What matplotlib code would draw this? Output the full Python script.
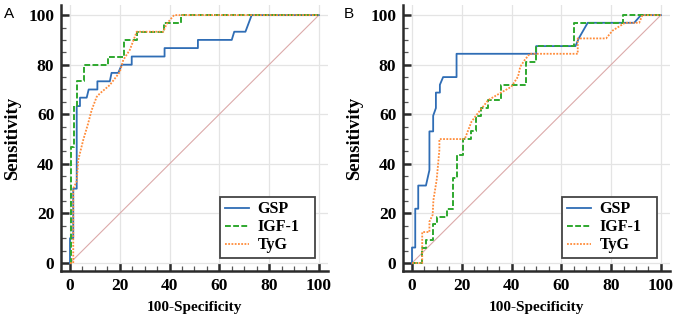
import matplotlib
matplotlib.use("Agg")
import matplotlib.pyplot as plt
from matplotlib.ticker import MultipleLocator

# ---------------- data ----------------
# Panel A
a_gsp_fpr = [0, 0, 1.3, 1.3, 2.7, 2.7, 4.0, 4.0, 6.7, 7.5, 11.0, 11.0, 16.0, 16.7, 19.4, 20.8, 24.8, 24.8, 38.0, 38.0, 51.4, 51.4, 65.0, 66.0, 70.5, 73.0, 100]
a_gsp_tpr = [0, 10, 10, 30, 30, 63.3, 63.3, 66.7, 66.7, 70, 70, 73.3, 73.3, 76.7, 76.7, 80, 80, 83.3, 83.3, 86.7, 86.7, 90, 90, 93.3, 93.3, 100, 100]

a_igf_fpr = [0, 0.4, 0.4, 1.5, 1.5, 2.8, 2.8, 5.6, 5.6, 15.2, 15.2, 21.7, 21.7, 27.1, 27.1, 37.8, 37.8, 44.6, 44.6, 100]
a_igf_tpr = [0, 0, 46.7, 46.7, 63.3, 63.3, 73.3, 73.3, 80, 80, 83.3, 83.3, 90, 90, 93.3, 93.3, 96.7, 96.7, 100, 100]

a_tyg_fpr = [0, 1.3, 1.3, 2.7, 3.3, 5.3, 7.2, 8.7, 10.7, 12.0, 16.0, 20.0, 21.4, 24.0, 24.5, 26.8, 37.5, 38.8, 41.8, 100]
a_tyg_tpr = [0, 0, 30, 33, 41.5, 49.6, 56, 61.7, 67, 68.4, 71.8, 77, 81.9, 85.9, 87.2, 93.3, 93.3, 96.4, 100, 100]

# Panel B
b_gsp_fpr = [0, 0, 1.3, 1.3, 2.5, 2.5, 5.6, 7.0, 7.0, 8.5, 8.5, 9.6, 9.6, 11.2, 11.2, 12.5, 17.9, 17.9, 49.9, 49.9, 65.7, 67.0, 70.6, 89.3, 92.0, 100]
b_gsp_tpr = [0, 6.25, 6.25, 21.9, 21.9, 31.25, 31.25, 37.5, 53.1, 53.1, 59.4, 62.5, 68.75, 68.75, 71.9, 75, 75, 84.4, 84.4, 87.5, 87.5, 90.6, 96.9, 96.9, 100, 100]

b_igf_fpr = [0, 4.1, 4.1, 5.6, 5.6, 8.5, 8.5, 10.1, 10.1, 13.9, 13.9, 16.5, 16.5, 17.9, 17.9, 20.5, 20.5, 23.9, 23.9, 25.6, 25.6, 27.9, 27.9, 30.6, 30.6, 35.9, 35.9, 45.7, 45.7, 49.9, 49.9, 65.3, 65.3, 84.6, 84.6, 100]
b_igf_tpr = [0, 0, 6.25, 6.25, 9.4, 9.4, 15.6, 15.6, 18.75, 18.75, 21.9, 21.9, 34.4, 34.4, 43.75, 43.75, 50, 50, 53.1, 53.1, 59.4, 59.4, 62.5, 62.5, 65.6, 65.6, 71.9, 71.9, 81.25, 81.25, 87.5, 87.5, 96.9, 96.9, 100, 100]

b_tyg_fpr = [0, 4.1, 4.1, 7.0, 7.0, 8.3, 8.6, 9.9, 11.0, 11.0, 21.2, 23.9, 25.9, 30.6, 35.2, 39.9, 42.6, 43.5, 45.3, 47.3, 66.6, 66.6, 78.0, 80.6, 85.6, 91.3, 92.6, 100]
b_tyg_tpr = [0, 0, 12.5, 12.5, 16.7, 19.4, 25.4, 33.5, 45.6, 50, 50, 57, 59.7, 65.7, 68.4, 71.1, 75.2, 79.2, 81.9, 84.4, 84.4, 90.6, 90.6, 93.75, 96.9, 96.9, 100, 100]

series_names = ["GSP", "IGF-1", "TyG"]
panel_letters = ["A", "B"]
tick_values = [0, 20, 40, 60, 80, 100]

# ---------------- styling ----------------
W, H = 676, 317
fig = plt.figure(figsize=(W / 100, H / 100), dpi=100)

serif = ["Liberation Serif", "DejaVu Serif"]
colors = ["#2f6db5", "#2ea82e", "#ff8c3a"]
styles = [dict(ls="-", lw=1.3), dict(ls=(0, (3, 1.2)), lw=1.4), dict(ls=(0, (1, 0.8)), lw=1.3)]

xlim = (-3.5, 103.8)
ylim = (-3.3, 104)

def px_axes(left, bottom_px, width, height):
    return fig.add_axes([left / W, (H - bottom_px) / H, width / W, height / H])

axA = px_axes(61.3, 271.2, 267, 266)
axB = px_axes(403.3, 271.2, 267, 266)

panels = [
    (axA, [(a_gsp_fpr, a_gsp_tpr), (a_igf_fpr, a_igf_tpr), (a_tyg_fpr, a_tyg_tpr)]),
    (axB, [(b_gsp_fpr, b_gsp_tpr), (b_igf_fpr, b_igf_tpr), (b_tyg_fpr, b_tyg_tpr)]),
]

for (ax, curves), letter in zip(panels, panel_letters):
    ax.set_xlim(*xlim)
    ax.set_ylim(*ylim)
    ax.plot([0, 100], [0, 100], color="#dcaaaa", lw=0.8, zorder=1)
    handles = []
    for (fx, ty), name, c, st in zip(curves, series_names, colors, styles):
        h, = ax.plot(fx, ty, color=c, label=name, zorder=3, **st)
        handles.append(h)
    ax.set_xticks(tick_values)
    ax.set_yticks(tick_values)
    ax.xaxis.set_minor_locator(MultipleLocator(5))
    ax.yaxis.set_minor_locator(MultipleLocator(5))
    ax.grid(True, which="major", color="#e4e4e4", lw=0.9, zorder=0)
    ax.set_axisbelow(True)
    for s in ["top", "right"]:
        ax.spines[s].set_visible(False)
    for s in ["left", "bottom"]:
        ax.spines[s].set_linewidth(1.8)
        ax.spines[s].set_color("#2b2b2b")
    ax.tick_params(which="major", direction="in", length=6, width=1.8, color="#2b2b2b", pad=5)
    ax.tick_params(which="minor", direction="in", length=3.5, width=0.9, color="#555555")
    for lab in ax.get_xticklabels() + ax.get_yticklabels():
        lab.set_fontfamily(serif)
        lab.set_fontweight("bold")
        lab.set_fontsize(12.5)
    ax.set_xlabel("100-Specificity", fontfamily=serif, fontweight="bold", fontsize=11, labelpad=5)
    ax.set_ylabel("Sensitivity", fontfamily=serif, fontweight="bold", fontsize=13.5, labelpad=5)
    leg = ax.legend(handles=handles, loc="lower left", mode="expand",
                    bbox_to_anchor=(0.595, 0.05, 0.355, 0), borderaxespad=0,
                    prop=dict(family=serif, weight="bold", size=11.5),
                    frameon=True, fancybox=False, framealpha=1, edgecolor="#444444",
                    handlelength=1.5, borderpad=0.28, labelspacing=0.13, handletextpad=0.55)
    leg.get_frame().set_linewidth(1.3)

fig.text(4 / W, 1 - 18 / H, "A", fontsize=11, fontfamily=["Liberation Sans", "DejaVu Sans"])
fig.text(344 / W, 1 - 18 / H, "B", fontsize=11, fontfamily=["Liberation Sans", "DejaVu Sans"])

fig.savefig("out.png", dpi=100)
